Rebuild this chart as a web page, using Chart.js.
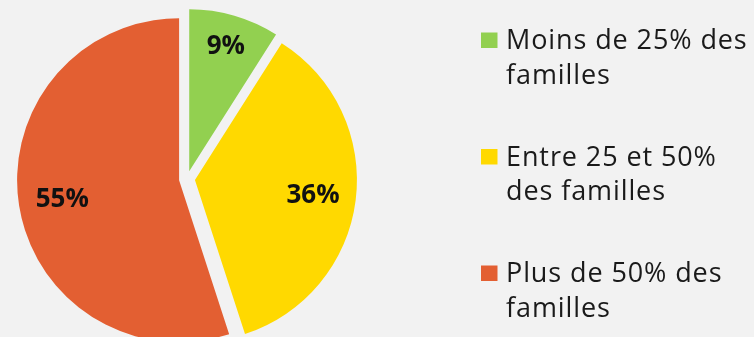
<!DOCTYPE html>
<html><head><meta charset="utf-8">
<script src="https://cdn.jsdelivr.net/npm/chart.js@4/dist/chart.umd.min.js"></script>
<style>
html,body{margin:0;padding:0;background:#f2f2f2;overflow:hidden;}
#wrap{position:relative;width:754px;height:358px;}
</style></head>
<body>
<div id="wrap"><canvas id="c" width="754" height="358"></canvas></div>
<script>
const categories = [["Moins de 25% des", "familles"], ["Entre 25 et 50%", "des familles"], ["Plus de 50% des", "familles"]];
const values = [9, 36, 55];
const valueLabels = ["9%", "36%", "55%"];
const colors = ["#92d050", "#ffd900", "#e35f32"];
const labelRadius = [0.81, 0.735, 0.73];
const explode = 8;

// draw arcs exploded by a uniform distance (Chart.js's own offset also inflates radii)
const explodePlugin = {
  id: 'explode',
  beforeDatasetDraw(chart) {
    const ctx = chart.ctx;
    const meta = chart.getDatasetMeta(0);
    meta.data.forEach(arc => {
      const mid = (arc.startAngle + arc.endAngle) / 2;
      ctx.save();
      ctx.translate(Math.cos(mid) * explode, Math.sin(mid) * explode);
      arc.draw(ctx, chart.chartArea);
      ctx.restore();
    });
    return false;
  }
};

const dataLabelsPlugin = {
  id: 'dataLabels',
  afterDatasetsDraw(chart) {
    const ctx = chart.ctx;
    const meta = chart.getDatasetMeta(0);
    ctx.save();
    ctx.font = "bold 26px 'Open Sans'";
    ctx.fillStyle = "#111";
    ctx.textAlign = "center";
    ctx.textBaseline = "middle";
    meta.data.forEach((arc, i) => {
      const mid = (arc.startAngle + arc.endAngle) / 2;
      const cx = arc.x + Math.cos(mid) * explode;
      const cy = arc.y + Math.sin(mid) * explode;
      const r = arc.outerRadius * labelRadius[i];
      ctx.fillText(valueLabels[i], cx + Math.cos(mid) * r, cy + Math.sin(mid) * r + 1);
    });
    ctx.restore();
  }
};

const legendPlugin = {
  id: 'sideLegend',
  afterDraw(chart) {
    const ctx = chart.ctx;
    ctx.save();
    ctx.font = "27px 'Open Sans'";
    if ('letterSpacing' in ctx) ctx.letterSpacing = "0.9px";
    ctx.textAlign = "left";
    ctx.textBaseline = "alphabetic";
    const x0 = 481, tx = 506, firstBase = 49, itemGap = 116.5, lineH = 34.5;
    categories.forEach((lines, i) => {
      const base = firstBase + i * itemGap;
      ctx.fillStyle = colors[i];
      ctx.fillRect(x0, base - 16.5, 16.5, 15.5);
      ctx.fillStyle = "#1a1a1a";
      lines.forEach((t, j) => ctx.fillText(t, tx, base + j * lineH));
    });
    ctx.restore();
  }
};

new Chart(document.getElementById('c'), {
  type: 'pie',
  data: {
    labels: categories.map(l => l.join(' ')),
    datasets: [{
      data: values,
      backgroundColor: colors,
      borderWidth: 0,
      offset: 0,
      hoverOffset: 0
    }]
  },
  options: {
    responsive: false,
    animation: false,
    radius: 162,
    layout: { padding: { left: 0, right: 380, top: 0, bottom: 0 } },
    plugins: { legend: { display: false }, tooltip: { enabled: false } },
    events: []
  },
  plugins: [explodePlugin, dataLabelsPlugin, legendPlugin]
});
</script>
</body></html>
